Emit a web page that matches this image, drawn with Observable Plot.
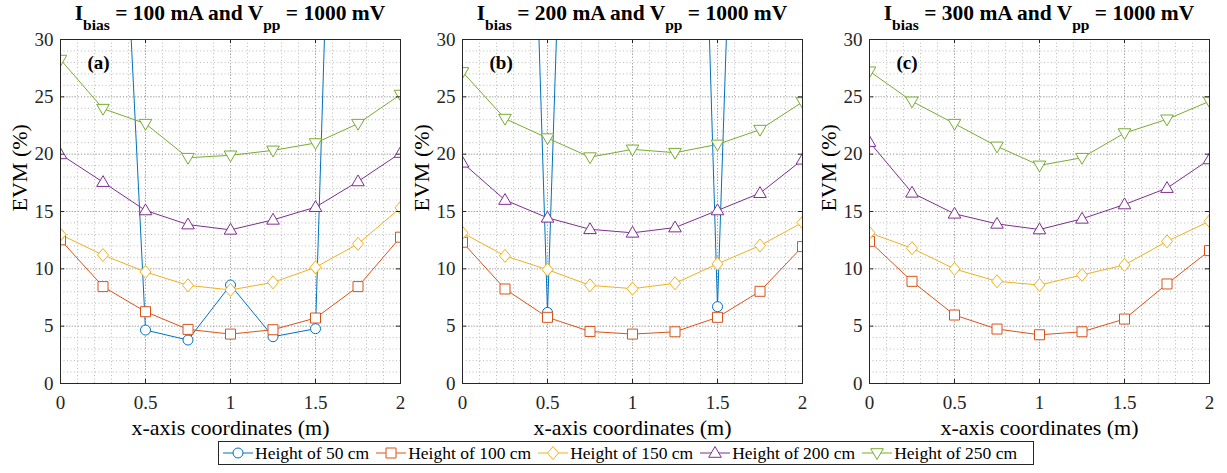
<!DOCTYPE html>
<html><head><meta charset="utf-8">
<script src="https://cdn.jsdelivr.net/npm/d3@7"></script>
<script src="https://cdn.jsdelivr.net/npm/@observablehq/plot@0.6"></script>
<style>
body{margin:0;background:#fff;font-family:"Liberation Serif","Times New Roman",Times,serif;}
#root{position:relative;width:1227px;height:473px;overflow:hidden;background:#fff;}
.panel{position:absolute;top:0;}
.title{position:absolute;top:3px;font-weight:bold;font-size:21.5px;white-space:nowrap;transform:translateX(-50%);line-height:21px;color:#000;}
.title .sb{font-size:15.5px;position:relative;top:10px;}
#legend{position:absolute;left:218px;top:441px;width:816px;height:24px;border:1px solid #262626;box-sizing:border-box;display:flex;align-items:center;font-size:17.5px;padding-left:3px;white-space:nowrap;color:#000;}
#legend .item{display:flex;align-items:center;margin-right:6px;}
#legend svg{display:block;margin-right:1px;}
</style></head><body><div id="root"></div><script>
// ---- data ----
const xCoords = [0, 0.25, 0.5, 0.75, 1, 1.25, 1.5, 1.75, 2];
const seriesNames = ["Height of 50 cm", "Height of 100 cm", "Height of 150 cm", "Height of 200 cm", "Height of 250 cm"];
const seriesColors = ["#0072BD", "#D95319", "#EDB120", "#7E2F8E", "#77AC30"];
const seriesMarkers = ["circle", "square", "diamond", "triangleUp", "triangleDown"];
const biasCurrents = ["100", "200", "300"];
const vppValues = ["1000", "1000", "1000"];
const panelLetters = ["(a)", "(b)", "(c)"];
const xTicks = [0, 0.5, 1, 1.5, 2];
const yTicks = [0, 5, 10, 15, 20, 25, 30];
const xLabel = "x-axis coordinates (m)";
const yLabel = "EVM (%)";

// panel (a) Ibias = 100 mA (50 cm series leaves the axes above 30 %)
const a50  = [95, 80, 4.66, 3.79, 8.59, 4.08, 4.78, 125, 110];
const a100 = [12.53, 8.45, 6.26, 4.72, 4.31, 4.69, 5.71, 8.45, 12.76];
const a150 = [12.99, 11.2, 9.73, 8.56, 8.16, 8.82, 10.13, 12.18, 15.32];
const a200 = [19.98, 17.56, 15.09, 13.86, 13.4, 14.27, 15.38, 17.62, 20.1];
const a250 = [28.25, 23.97, 22.66, 19.69, 19.9, 20.33, 20.97, 22.66, 25.2];
// panel (b) Ibias = 200 mA
const b50  = [110, 125, 6.2, 120, 115, 130, 6.7, 119, 105];
const b100 = [12.32, 8.24, 5.77, 4.54, 4.31, 4.51, 5.77, 8.04, 11.94];
const b150 = [13.14, 11.13, 9.93, 8.56, 8.27, 8.74, 10.43, 12.03, 14.04];
const b200 = [19.25, 16.0, 14.45, 13.45, 13.14, 13.6, 15.09, 16.6, 19.51];
const b250 = [27.17, 23.1, 21.4, 19.74, 20.42, 20.13, 20.85, 22.14, 24.55];
// panel (c) Ibias = 300 mA (no visible 50 cm series)
const c50  = [];
const c100 = [12.4, 8.91, 5.97, 4.75, 4.25, 4.51, 5.62, 8.68, 11.59];
const c150 = [13.14, 11.8, 9.99, 8.91, 8.59, 9.47, 10.34, 12.4, 14.15];
const c200 = [21.05, 16.63, 14.8, 13.92, 13.43, 14.36, 15.61, 17.04, 19.54];
const c250 = [27.23, 24.61, 22.66, 20.68, 19.02, 19.69, 21.84, 23.04, 24.61];

const panelSeries = [[a50, a100, a150, a200, a250], [b50, b100, b150, b200, b250], [c50, c100, c150, c200, c250]];

// ---- marker symbols (MATLAB-like) ----
const symbols = {
  circle: {draw(ctx) { const r = 5; ctx.moveTo(r, 0); ctx.arc(0, 0, r, 0, 2 * Math.PI); ctx.closePath(); }},
  square: {draw(ctx) { const h = 5; ctx.moveTo(-h, -h); ctx.lineTo(h, -h); ctx.lineTo(h, h); ctx.lineTo(-h, h); ctx.closePath(); }},
  diamond: {draw(ctx) { ctx.moveTo(0, -6.5); ctx.lineTo(5.5, 0); ctx.lineTo(0, 6.5); ctx.lineTo(-5.5, 0); ctx.closePath(); }},
  triangleUp: {draw(ctx) { ctx.moveTo(0, -6.5); ctx.lineTo(6.3, 4.3); ctx.lineTo(-6.3, 4.3); ctx.closePath(); }},
  triangleDown: {draw(ctx) { ctx.moveTo(0, 6.5); ctx.lineTo(6.3, -4.3); ctx.lineTo(-6.3, -4.3); ctx.closePath(); }}
};

const FONT = "'Liberation Serif', 'Times New Roman', Times, serif";
const root = document.getElementById("root");
const panelLefts = [0, 402, 809];
const plotW = 340, mL = 60, mR = 12, mT = 39, mB = 57, H = 440;

panelSeries.forEach((series, p) => {
  const rows = [];
  series.forEach((vals, s) => vals.forEach((v, i) => rows.push({x: xCoords[i], v, s})));
  const marks = [
    Plot.gridX({ticks: d3.range(0, 2.0001, 0.1), stroke: "#bdbdbd", strokeOpacity: 1, strokeDasharray: "1,2.5"}),
    Plot.gridY({ticks: d3.range(0, 30.001, 1), stroke: "#bdbdbd", strokeOpacity: 1, strokeDasharray: "1,2.5"}),
    Plot.gridX({ticks: xTicks, stroke: "#a8a8a8", strokeOpacity: 1, strokeDasharray: "1,2"}),
    Plot.gridY({ticks: yTicks, stroke: "#a8a8a8", strokeOpacity: 1, strokeDasharray: "1,2"})
  ];
  series.forEach((vals, s) => {
    if (!vals.length) return;
    const d = rows.filter(r => r.s === s);
    marks.push(Plot.line(d, {x: "x", y: "v", stroke: seriesColors[s], strokeWidth: 1, clip: true}));
  });
  series.forEach((vals, s) => {
    if (!vals.length) return;
    const d = rows.filter(r => r.s === s);
    marks.push(Plot.dot(d, {x: "x", y: "v", stroke: seriesColors[s], fill: "white", strokeWidth: 1, symbol: symbols[seriesMarkers[s]], clip: true}));
  });
  marks.push(
    Plot.frame({stroke: "#262626", strokeWidth: 1}),
    Plot.ruleX(xTicks, {y1: 0, y2: 0.35, stroke: "#262626"}),
    Plot.ruleX(xTicks, {y1: 30, y2: 29.65, stroke: "#262626"}),
    Plot.ruleY(yTicks, {x1: 0, x2: 0.025, stroke: "#262626"}),
    Plot.ruleY(yTicks, {x1: 2, x2: 1.975, stroke: "#262626"}),
    Plot.axisX({ticks: xTicks, tickSize: 0, tickPadding: 12, fontSize: 19, label: null, tickFormat: d3.format("")}),
    Plot.axisY({ticks: yTicks, tickSize: 0, tickPadding: 7, fontSize: 19, label: null}),
    Plot.text([xLabel], {text: d => d, frameAnchor: "bottom", lineAnchor: "middle", dy: 44, fontSize: 22, fill: "#000"}),
    Plot.text([yLabel], {text: d => d, frameAnchor: "left", lineAnchor: "middle", dx: -41, rotate: -90, fontSize: 22, fill: "#000"}),
    Plot.text([panelLetters[p]], {text: d => d, frameAnchor: "top-left", lineAnchor: "middle", dx: 27, dy: 23, textAnchor: "start", fontSize: 19, fontWeight: "bold", fill: "#000"})
  );
  const chart = Plot.plot({
    width: mL + plotW + mR, height: H,
    marginLeft: mL, marginRight: mR, marginTop: mT, marginBottom: mB,
    style: {fontFamily: FONT, color: "#262626", background: "transparent", overflow: "visible"},
    x: {domain: [0, 2]},
    y: {domain: [0, 30]},
    marks
  });
  const wrap = document.createElement("div");
  wrap.className = "panel";
  wrap.style.left = panelLefts[p] + "px";
  wrap.appendChild(chart);
  root.appendChild(wrap);

  const t = document.createElement("div");
  t.className = "title";
  t.style.left = (panelLefts[p] + mL + plotW / 2) + "px";
  t.innerHTML = `I<span class="sb">bias</span> = ${biasCurrents[p]} mA and V<span class="sb">pp</span> = ${vppValues[p]} mV`;
  root.appendChild(t);
});

// ---- legend ----
const legend = document.createElement("div");
legend.id = "legend";
seriesNames.forEach((name, s) => {
  const item = document.createElement("div");
  item.className = "item";
  const svg = d3.create("svg").attr("width", 32).attr("height", 16);
  svg.append("line").attr("x1", 1).attr("x2", 31).attr("y1", 8).attr("y2", 8).attr("stroke", seriesColors[s]);
  const path = d3.path();
  symbols[seriesMarkers[s]].draw(path);
  svg.append("path").attr("d", path.toString()).attr("transform", "translate(16,8)").attr("fill", "white").attr("stroke", seriesColors[s]);
  item.appendChild(svg.node());
  const span = document.createElement("span");
  span.textContent = name;
  item.appendChild(span);
  legend.appendChild(item);
});
root.appendChild(legend);
</script></body></html>
